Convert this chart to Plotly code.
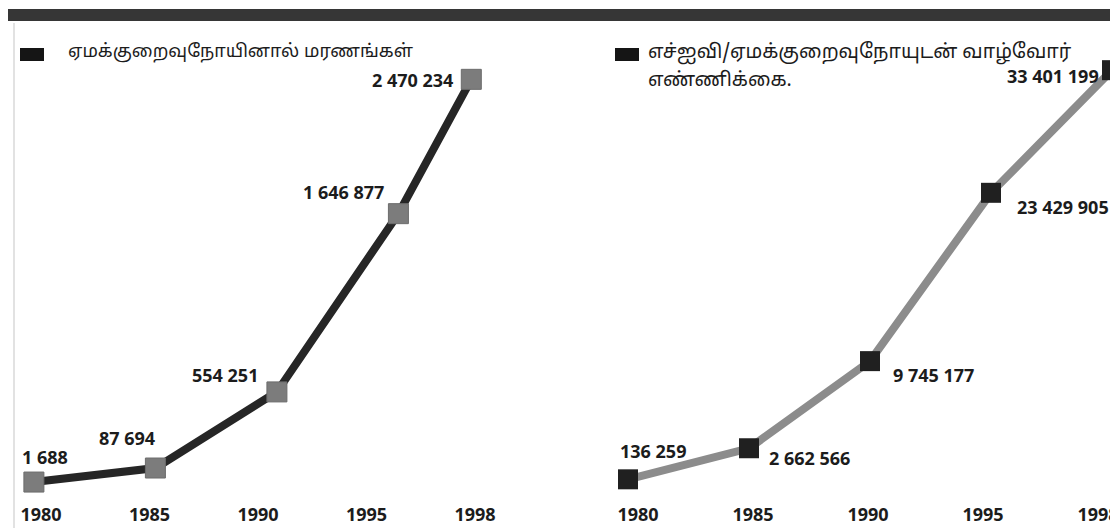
import plotly.graph_objects as go

years = [1980, 1985, 1990, 1995, 1998]
year_labels = ["1980", "1985", "1990", "1995", "1998"]
deaths = [1688, 87694, 554251, 1646877, 2470234]
living = [136259, 2662566, 9745177, 23429905, 33401199]
deaths_text = ["1 688", "87 694", "554 251", "1 646 877", "2 470 234"]
living_text = ["136 259", "2 662 566", "9 745 177", "23 429 905", "33 401 199"]
title_left = "ஏமக்குறைவுநோயினால் மரணங்கள்"
title_right_lines = ["எச்ஐவி/ஏமக்குறைவுநோயுடன் வாழ்வோர்", "எண்ணிக்கை."]

W, H = 1118, 528
INK = "#1c1c1c"
NUM_FONT = dict(family="Open Sans, Lato, sans-serif", size=18, color=INK)
TICK_FONT = dict(family="Open Sans, Lato, sans-serif", size=18, color=INK)

fig = go.Figure()

# left chart: AIDS deaths
fig.add_trace(go.Scatter(
    x=years, y=deaths, xaxis="x", yaxis="y", mode="lines+markers",
    line=dict(color="#262626", width=8),
    marker=dict(symbol="square", size=20, color="#7c7c7c",
                line=dict(color="#6c6c6c", width=1)),
    showlegend=False, hoverinfo="skip"))

# right chart: people living with HIV/AIDS
fig.add_trace(go.Scatter(
    x=year_labels, y=living, xaxis="x2", yaxis="y2", mode="lines+markers",
    line=dict(color="#8c8c8c", width=8),
    marker=dict(symbol="square", size=20, color="#202020"),
    showlegend=False, hoverinfo="skip"))

# carriers of the year-label rows (they draw nothing)
idx = list(range(len(year_labels)))
fig.add_trace(go.Scatter(x=idx, y=[None] * len(idx), xaxis="x3", yaxis="y",
                         mode="markers", showlegend=False, hoverinfo="skip"))
fig.add_trace(go.Scatter(x=idx, y=[None] * len(idx), xaxis="x4", yaxis="y2",
                         mode="markers", showlegend=False, hoverinfo="skip"))

# value labels: (xanchor, xshift, yshift) are styling offsets
left_style = [("left", -14, 25), ("right", 2, 30), ("right", -17, 17),
              ("right", -12, 22), ("right", -16, -1)]
right_style = [("left", -10, 28), ("left", 18, -10), ("left", 21, -14),
               ("left", 24, -14), ("right", -11, -6)]
annotations = []
for xv, yv, t, (xa, dx, dy) in zip(years, deaths, deaths_text, left_style):
    annotations.append(dict(x=xv, y=yv, xref="x", yref="y", text="<b>%s</b>" % t,
                            showarrow=False, xanchor=xa, xshift=dx, yshift=dy, font=NUM_FONT))
for i, (yv, t, (xa, dx, dy)) in enumerate(zip(living, living_text, right_style)):
    annotations.append(dict(x=i, y=yv, xref="x2", yref="y2", text="<b>%s</b>" % t,
                            showarrow=False, xanchor=xa, xshift=dx, yshift=dy, font=NUM_FONT))

# titles with their legend swatches
annotations.append(dict(x=58 / W, y=1 - 44 / H, xref="paper", yref="paper", text=title_left,
                        showarrow=False, xanchor="left", yanchor="middle",
                        font=dict(family="Noto Sans Tamil, Noto Sans, sans-serif", size=18, color=INK)))
for i, line in enumerate(title_right_lines):
    annotations.append(dict(x=638 / W, y=1 - (44 + 29 * i) / H, xref="paper", yref="paper",
                            text=line, showarrow=False, xanchor="left", yanchor="middle",
                            font=dict(family="Noto Sans Tamil, Noto Sans, sans-serif", size=19.5, color=INK)))

shapes = [
    dict(type="rect", xref="paper", yref="paper", x0=0, x1=1, y0=1 - 13 / H, y1=1 - 1 / H,
         fillcolor="#363636", line=dict(width=0)),
    dict(type="rect", xref="paper", yref="paper", x0=12 / W, x1=36 / W, y0=1 - 53 / H, y1=1 - 40 / H,
         fillcolor="#151515", line=dict(width=0)),
    dict(type="rect", xref="paper", yref="paper", x0=607 / W, x1=631 / W, y0=1 - 53 / H, y1=1 - 40 / H,
         fillcolor="#151515", line=dict(width=0)),
    dict(type="line", xref="paper", yref="paper", x0=6 / W, x1=6 / W, y0=0, y1=1 - 15 / H,
         line=dict(color="#e2e2e2", width=2)),
]

bottom = 1 - 494 / H
ticktext = ["<b>%s</b>" % y for y in year_labels]
fig.update_layout(
    width=W, height=H, margin=dict(l=0, r=0, t=0, b=0),
    paper_bgcolor="#ffffff", plot_bgcolor="rgba(0,0,0,0)",
    annotations=annotations, shapes=shapes,
    xaxis=dict(domain=[0, 0.5], range=[1978.934, 2001.938], showgrid=False, zeroline=False,
               showticklabels=False, showline=False, anchor="y"),
    xaxis3=dict(overlaying="x", range=[-0.3041, 4.8479], tickvals=idx, ticktext=ticktext,
                showgrid=False, zeroline=False, showline=False, anchor="y", side="bottom",
                tickfont=TICK_FONT, ticks=""),
    yaxis=dict(domain=[bottom, 1], range=[-120571, 2907510], visible=False, anchor="x"),
    xaxis2=dict(domain=[0.5, 1], type="category", range=[-0.5041, 4.1157], showgrid=False,
                zeroline=False, showline=False, showticklabels=False, anchor="y2"),
    xaxis4=dict(overlaying="x2", range=[-0.6174, 4.2435], tickvals=idx, ticktext=ticktext,
                showgrid=False, zeroline=False, showline=False, anchor="y2", side="bottom",
                tickfont=TICK_FONT, ticks=""),
    yaxis2=dict(domain=[bottom, 1], range=[-1707317, 38455285], visible=False, anchor="x2"),
)

fig.write_html("out.html")
